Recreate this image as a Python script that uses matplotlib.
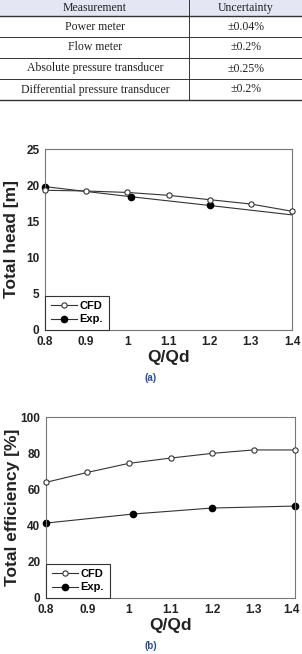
import matplotlib
matplotlib.use("Agg")
import matplotlib.pyplot as plt
import matplotlib.transforms as mtransforms
from matplotlib.lines import Line2D

# ---- table data ----
table_header = ["Measurement", "Uncertainty"]
table_items = ["Power meter", "Flow meter", "Absolute pressure transducer",
               "Differential pressure transducer"]
table_uncert = ["\u00b10.04%", "\u00b10.2%", "\u00b10.25%", "\u00b10.2%"]

# ---- chart (a): total head ----
q_cfd = [0.8, 0.9, 1.0, 1.1, 1.2, 1.3, 1.4]
head_cfd = [19.3, 19.2, 19.0, 18.6, 18.0, 17.4, 16.4]
q_exp = [0.8, 1.01, 1.2, 1.4]
head_exp = [19.8, 18.4, 17.2, 15.9]

# ---- chart (b): total efficiency ----
eff_cfd = [63.9, 69.4, 74.4, 77.3, 79.9, 81.8, 81.8]
q_exp_b = [0.8, 1.01, 1.2, 1.4]
eff_exp = [41.4, 46.4, 49.7, 50.8]

x_ticks = [0.8, 0.9, 1.0, 1.1, 1.2, 1.3, 1.4]
x_ticklabels = ["0.8", "0.9", "1", "1.1", "1.2", "1.3", "1.4"]

W, H = 302, 654
fig = plt.figure(figsize=(W / 100, H / 100), dpi=100)

# background axes in pixel coordinates for the table and captions
bg = fig.add_axes([0, 0, 1, 1])
bg.set_xlim(0, W)
bg.set_ylim(H, 0)
bg.axis("off")

serif = "Liberation Serif"
bg.fill_between([0, W], 0, 16, color="#e4e6f4", zorder=0)
row_top = 16
row_h = 21
for i in range(len(table_items) + 1):
    y = row_top + i * row_h
    lw = 1.0 if i in (0, len(table_items)) else 0.7
    bg.plot([0, W], [y, y], color="#333333", lw=lw, zorder=1)
bg.plot([189, 189], [0, row_top + len(table_items) * row_h], color="#333333", lw=0.7)
col_c = [95, 246]
for j, t in enumerate(table_header):
    bg.text(col_c[j], 8, t, ha="center", va="center", family=serif, fontsize=8.5, color="#222222")
for i, (a, b) in enumerate(zip(table_items, table_uncert)):
    yc = row_top + i * row_h + row_h / 2
    bg.text(col_c[0], yc, a, ha="center", va="center", family=serif, fontsize=8.5, color="#222222")
    bg.text(col_c[1], yc, b, ha="center", va="center", family=serif, fontsize=8.5, color="#222222")

bg.text(151, 378, "(a)", ha="center", va="center", family="Liberation Sans",
        fontsize=7, fontweight="bold", color="#2b4c9b")
bg.text(151, 646, "(b)", ha="center", va="center", family="Liberation Sans",
        fontsize=7, fontweight="bold", color="#2b4c9b")

sans = "Liberation Sans"
line_c = "#333333"


def style_axes(ax, ylabel, ylim, yticks, label_x):
    ax.set_xlim(0.8, 1.4)
    ax.set_ylim(*ylim)
    ax.set_xticks(x_ticks)
    ax.set_xticklabels(x_ticklabels)
    ax.set_yticks(yticks)
    ax.tick_params(length=0, pad=4, labelsize=8.5, colors="#222222")
    for lab in ax.get_xticklabels() + ax.get_yticklabels():
        lab.set_fontfamily(sans)
        lab.set_fontweight("bold")
    for s in ax.spines.values():
        s.set_color("#777777")
        s.set_linewidth(0.8)
    ax.set_xlabel("Q/Qd", family=sans, fontweight="bold", fontsize=12.5, labelpad=2, color="#222222")
    ax.set_ylabel(ylabel, family=sans, fontweight="bold", fontsize=12.5, color="#222222")
    ax.yaxis.set_label_coords(label_x, 0.5)
    ax.yaxis.label.set_verticalalignment("center")
    handles = [
        Line2D([], [], color=line_c, lw=0.8, marker="o", markersize=3.8,
               markerfacecolor="white", markeredgecolor=line_c, markeredgewidth=0.8),
        Line2D([], [], color=line_c, lw=0.8, marker="o", markersize=4.5,
               markerfacecolor="black", markeredgecolor="black"),
    ]
    leg = ax.legend(handles, ["CFD", "Exp."], loc="lower left", bbox_to_anchor=(0, 0),
                    borderaxespad=0, fancybox=False, edgecolor="#333333", framealpha=1,
                    prop={"family": sans, "weight": "bold", "size": 8},
                    handlelength=2.4, handletextpad=0.2, borderpad=0.5, labelspacing=0.3)
    leg.get_frame().set_linewidth(0.8)


# chart (a)
axa = fig.add_axes([45 / W, 1 - 330 / H, 247 / W, 181 / H])
axa.plot(q_cfd, head_cfd, color=line_c, lw=0.8, marker="o", markersize=3.8,
         markerfacecolor="white", markeredgecolor=line_c, markeredgewidth=0.8, zorder=3)
axa.plot(q_exp, head_exp, color=line_c, lw=0.8, marker="o", markersize=4.5,
         markerfacecolor="black", markeredgecolor="black", markevery=[0, 1, 2], zorder=2)
style_axes(axa, "Total head [m]", (0, 25), [0, 5, 10, 15, 20, 25], (12 - 45) / 247)

# chart (b)
axb = fig.add_axes([46 / W, 1 - 598 / H, 249 / W, 181 / H])
axb.plot(q_cfd, eff_cfd, color=line_c, lw=0.8, marker="o", markersize=3.8,
         markerfacecolor="white", markeredgecolor=line_c, markeredgewidth=0.8, zorder=3)
axb.plot(q_exp_b, eff_exp, color=line_c, lw=0.8, marker="o", markersize=4.5,
         markerfacecolor="black", markeredgecolor="black", zorder=2)
style_axes(axb, "Total efficiency [%]", (0, 100), [0, 20, 40, 60, 80, 100], (13 - 46) / 249)
last = axb.get_xticklabels()[-1]
last.set_transform(last.get_transform() + mtransforms.ScaledTranslation(-4 / 100, 0, fig.dpi_scale_trans))

for ax in (axa, axb):
    for l in ax.lines:
        l.set_clip_on(False)

fig.savefig("out.png", dpi=100)
